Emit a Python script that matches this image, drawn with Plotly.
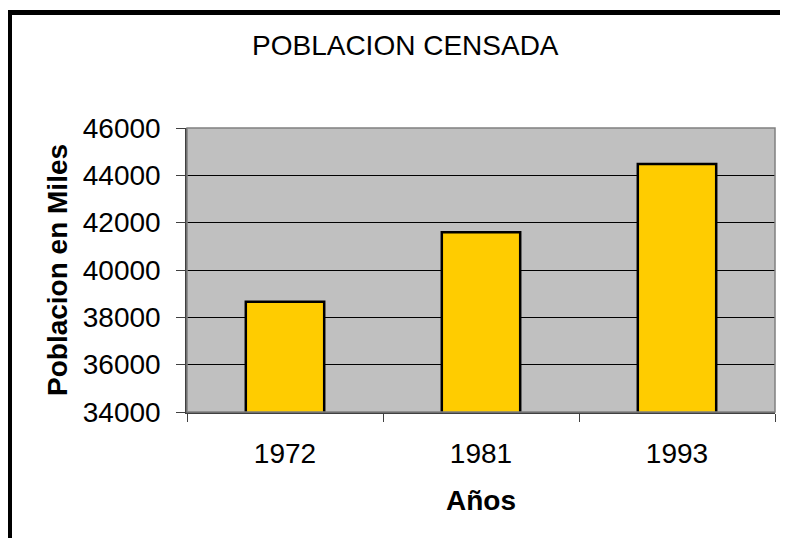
import plotly.graph_objects as go

years = ["1972", "1981", "1993"]
poblacion = [38660, 41600, 44480]
y_ticks = [34000, 36000, 38000, 40000, 42000, 44000, 46000]

FONT = "Arial, Liberation Sans, sans-serif"
OFF = 8  # default page body margin
W, H = 788 - 2 * OFF, 546 - 2 * OFF
# plot area in window pixels
PL, PR, PT, PB = 187, 775, 128, 412
L, R, T, B = PL - OFF, W - (PR - OFF), PT - OFF, H - (PB - OFF)
PW, PH = PR - PL, PB - PT

def px(x):
    return (x - PL) / PW

def py(y):
    return (PB - y) / PH

fig = go.Figure(go.Bar(
    x=years, y=poblacion,
    marker=dict(color="#FFCC00", line=dict(color="black", width=2.5)),
    width=0.4,
))

fig.update_layout(
    width=W, height=H,
    margin=dict(l=L, r=R, t=T, b=B, pad=0),
    paper_bgcolor="white", plot_bgcolor="#C0C0C0",
    showlegend=False,
    font=dict(family=FONT, size=28, color="black"),
    xaxis=dict(
        type="category", tickson="boundaries", ticks="outside", ticklen=8,
        tickcolor="#404040", showline=True, linecolor="#404040", linewidth=1.5,
        showgrid=False, tickfont=dict(size=28), ticklabelstandoff=16,
    ),
    yaxis=dict(
        range=[34000, 46000], tickvals=y_ticks, ticks="outside", ticklen=9,
        tickcolor="#404040", showline=True, linecolor="#404040", linewidth=1.5,
        showgrid=True, gridcolor="black", gridwidth=1, zeroline=False,
        tickfont=dict(size=28), tickformat="d", ticklabelstandoff=10,
    ),
    shapes=[
        dict(type="rect", xref="paper", yref="paper", x0=0, x1=1, y0=0, y1=1,
             line=dict(color="#808080", width=1.5), layer="above"),
        dict(type="line", xref="paper", yref="paper",
             x0=px(7), x1=px(W + OFF), y0=py(12.5), y1=py(12.5),
             line=dict(color="black", width=5)),
        dict(type="line", xref="paper", yref="paper",
             x0=px(9.5), x1=px(9.5), y0=py(10), y1=py(H + OFF),
             line=dict(color="black", width=5)),
    ],
    annotations=[
        dict(text="POBLACION CENSADA", xref="paper", yref="paper",
             x=px(405), y=py(46), xanchor="center", yanchor="middle",
             showarrow=False, font=dict(size=28)),
        dict(text="<b>Años</b>", xref="paper", yref="paper",
             x=px(481), y=py(500), xanchor="center", yanchor="middle",
             showarrow=False, font=dict(size=28)),
        dict(text="<b>Poblacion en Miles</b>", xref="paper", yref="paper",
             x=px(57), y=py(270), xanchor="center", yanchor="middle",
             textangle=-90, showarrow=False, font=dict(size=28)),
    ],
)

fig.write_html("out.html")
